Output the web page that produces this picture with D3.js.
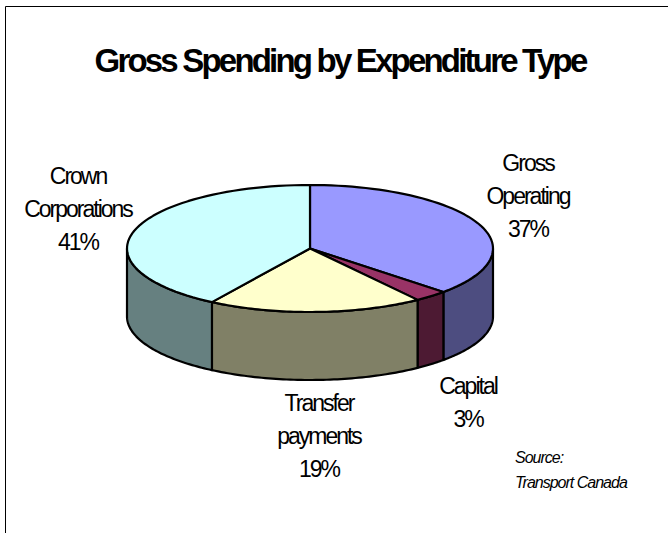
<!DOCTYPE html>
<html>
<head>
<meta charset="utf-8">
<script src="https://cdn.jsdelivr.net/npm/d3@7/dist/d3.min.js"></script>
<style>
  html, body { margin: 0; padding: 0; background: #fff; }
  svg { display: block; }
  text { font-family: "Liberation Sans", Arial, sans-serif; fill: #000; }
</style>
</head>
<body>
<svg id="chart" width="668" height="533"></svg>
<script>
// Spending shares, clockwise from twelve o'clock
const categories = ["Gross Operating", "Capital", "Transfer payments", "Crown Corporations"];
const shares = [37, 3, 19, 41];
const topColors = ["#9999ff", "#993366", "#ffffcc", "#ccffff"];
const wallColors = ["#4d4d80", "#4d1a33", "#808066", "#668080"];

// Label lines as drawn around the pie
const labelLines = [
  { lines: ["Gross", "Operating", "37%"], x: 528, y: 171 },
  { lines: ["Capital", "3%"], x: 468, y: 394 },
  { lines: ["Transfer", "payments", "19%"], x: 319, y: 411 },
  { lines: ["Crown", "Corporations", "41%"], x: 78, y: 184 }
];

const svg = d3.select("#chart");
const cx = 310, cy = 248.5, rx = 183, ry = 63.5, depth = 68;

// Frame: open on the right and bottom sides
svg.append("path")
  .attr("d", "M5.5,533V6.5H668")
  .attr("fill", "none").attr("stroke", "#000").attr("stroke-width", 1);

svg.append("text")
  .attr("x", 340).attr("y", 72)
  .attr("text-anchor", "middle")
  .attr("font-size", 33).attr("font-weight", "bold")
  .attr("letter-spacing", -2.8)
  .text("Gross Spending by Expenditure Type");

const slices = d3.pie().sort(null).value(d => d)(shares);

// Angle to ellipse coordinates
const px = d3.scaleLinear().domain([-1, 1]).range([cx - rx, cx + rx]);
const py = d3.scaleLinear().domain([-1, 1]).range([cy - ry, cy + ry]);
const rimPoint = a => [px(Math.sin(a)), py(-Math.cos(a))];
const arcSamples = (a0, a1) => d3.range(0, 61).map(i => a0 + (a1 - a0) * i / 60);
const line = d3.line();

// Walls: only the part of each slice on the near half of the rim
const walls = svg.append("g");
slices.forEach((s, i) => {
  const a0 = Math.max(s.startAngle, Math.PI / 2);
  const a1 = Math.min(s.endAngle, 3 * Math.PI / 2);
  if (a1 <= a0) return;
  const upper = arcSamples(a0, a1).map(rimPoint);
  const lower = upper.slice().reverse().map(([x, y]) => [x, y + depth]);
  walls.append("path")
    .attr("d", line(upper.concat(lower)) + "Z")
    .attr("fill", wallColors[i])
    .attr("stroke", "#000").attr("stroke-width", 2.2).attr("stroke-linejoin", "round");
});

// Top face
const tops = svg.append("g");
slices.forEach((s, i) => {
  const rim = arcSamples(s.startAngle, s.endAngle).map(rimPoint);
  tops.append("path")
    .attr("d", line([[cx, cy]].concat(rim)) + "Z")
    .attr("fill", topColors[i])
    .attr("stroke", "#000").attr("stroke-width", 2.2).attr("stroke-linejoin", "round");
});

// Slice labels
labelLines.forEach(l => {
  const t = svg.append("text")
    .attr("text-anchor", "middle")
    .attr("font-size", 23)
    .attr("letter-spacing", -2);
  l.lines.forEach((str, j) => {
    t.append("tspan").attr("x", l.x).attr("y", l.y + j * 33).text(str);
  });
});

// Source note
const src = svg.append("text")
  .attr("font-size", 16).attr("font-style", "italic")
  .attr("letter-spacing", -1);
src.append("tspan").attr("x", 515).attr("y", 463).text("Source:");
src.append("tspan").attr("x", 515).attr("y", 488).text("Transport Canada");
</script>
</body>
</html>
